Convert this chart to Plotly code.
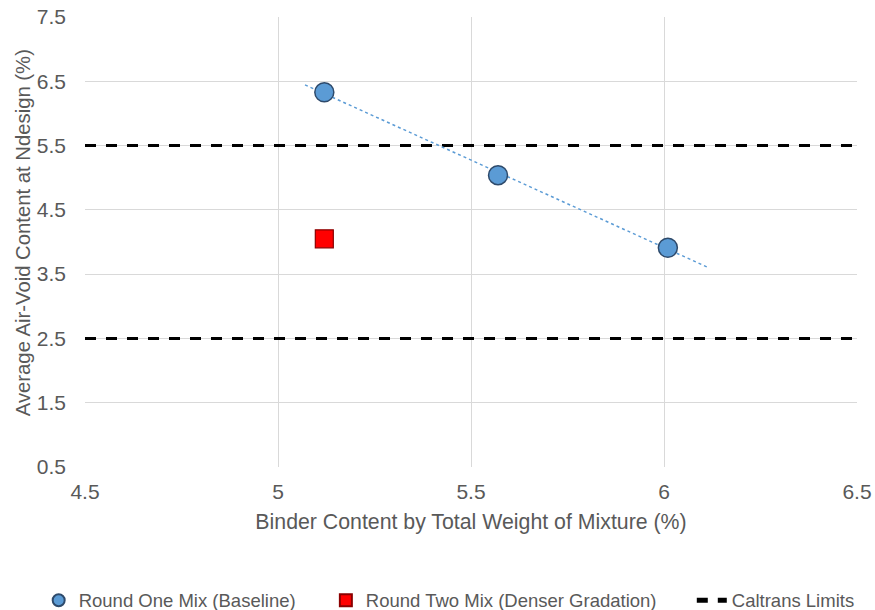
import numpy as np
import plotly.graph_objects as go

# Data
round_one_binder = [5.12, 5.57, 6.01]
round_one_voids = [6.33, 5.04, 3.91]
round_two_binder = [5.12]
round_two_voids = [4.05]
caltrans_limits = [5.5, 2.5]
trend_x_span = [5.07, 6.115]
x_ticks = [4.5, 5, 5.5, 6, 6.5]
y_ticks = [0.5, 1.5, 2.5, 3.5, 4.5, 5.5, 6.5, 7.5]

x_range = [x_ticks[0], x_ticks[-1]]
y_range = [y_ticks[0], y_ticks[-1]]

slope, intercept = np.polyfit(round_one_binder, round_one_voids, 1)
trend_x = np.array(trend_x_span)
trend_y = slope * trend_x + intercept

lim_x, lim_y = [], []
for v in caltrans_limits:
    lim_x += [x_range[0], x_range[1], None]
    lim_y += [v, v, None]

FONT = "Liberation Sans, Arial, sans-serif"
GRAY = "#595959"

fig = go.Figure()

fig.add_trace(go.Scatter(
    x=lim_x, y=lim_y, mode="lines", name="Caltrans Limits",
    line=dict(color="black", width=3, dash="11px,10px"),
    legend="legend3", cliponaxis=False,
))
fig.add_trace(go.Scatter(
    x=trend_x, y=trend_y, mode="lines", showlegend=False,
    line=dict(color="#5B9BD5", width=1.5, dash="dot"),
    hoverinfo="skip",
))
fig.add_trace(go.Scatter(
    x=round_one_binder, y=round_one_voids, mode="markers",
    name="Round One Mix (Baseline)",
    marker=dict(symbol="circle", size=19, color="#5B9BD5",
                line=dict(color="#2E4A6B", width=1.5)),
    legend="legend",
))
fig.add_trace(go.Scatter(
    x=round_two_binder, y=round_two_voids, mode="markers",
    name="Round Two Mix (Denser Gradation)",
    marker=dict(symbol="square", size=18, color="#FF0000",
                line=dict(color="#8B0000", width=1.2)),
    legend="legend2",
))

leg_common = dict(
    orientation="h", xanchor="left", xref="paper",
    y=-0.255, yanchor="top", bgcolor="rgba(0,0,0,0)",
    font=dict(size=18.5, color=GRAY, family=FONT),
    itemsizing="constant",
)

fig.update_layout(
    width=875, height=610,
    margin=dict(l=85, r=18, t=17, b=143, autoexpand=False),
    paper_bgcolor="white", plot_bgcolor="white",
    font=dict(family=FONT, color=GRAY, size=18),
    showlegend=True,
    legend=dict(x=-0.06, **leg_common),
    legend2=dict(x=0.312, **leg_common),
    legend3=dict(x=0.786, **leg_common),
    annotations=[dict(
        text="Average Air-Void Content at Ndesign (%)",
        textangle=-90, xref="paper", yref="paper",
        x=-0.08, y=0.52, xanchor="center", yanchor="middle",
        showarrow=False,
        font=dict(size=20.3, color=GRAY, family=FONT),
    )],
)

fig.update_xaxes(
    range=x_range, tickvals=x_ticks, ticktext=[f"{v:g}" for v in x_ticks],
    showgrid=True, gridcolor="#D9D9D9", gridwidth=1,
    zeroline=False, showline=False, ticks="", automargin=False,
    tickfont=dict(size=21, color=GRAY, family=FONT),
    ticklabelstandoff=10,
    title=dict(text="Binder Content by Total Weight of Mixture (%)",
               font=dict(size=21.3, color=GRAY, family=FONT), standoff=12),
)
fig.update_yaxes(
    range=y_range, tickvals=y_ticks, ticktext=[f"{v:.1f}" for v in y_ticks],
    showgrid=True, gridcolor="#D9D9D9", gridwidth=1,
    zeroline=False, showline=False, ticks="", automargin=False,
    tickfont=dict(size=21, color=GRAY, family=FONT),
    ticklabelstandoff=18,
)

fig.write_html("out.html", config={"displayModeBar": False},
               post_script="document.body.style.margin='0';")
